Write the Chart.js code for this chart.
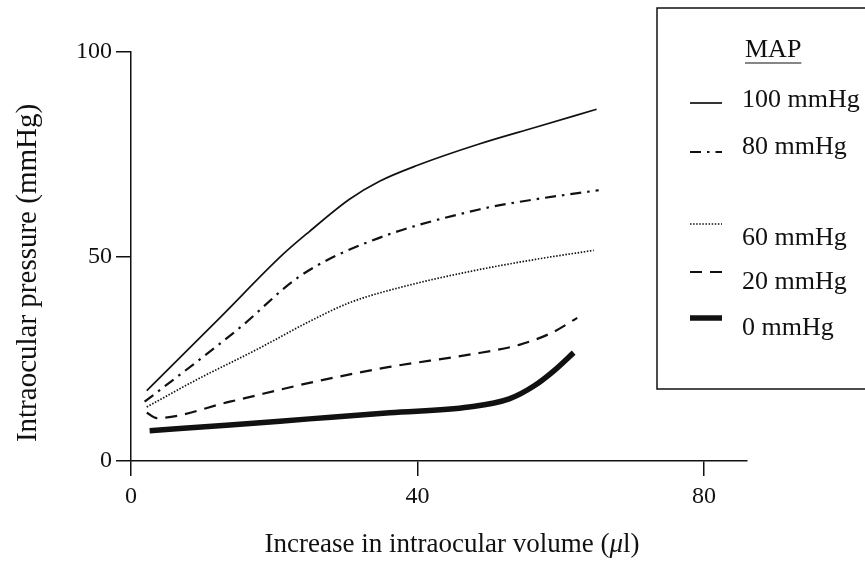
<!DOCTYPE html>
<html>
<head>
<meta charset="utf-8">
<script src="https://cdn.jsdelivr.net/npm/chart.js@4.4.0/dist/chart.umd.min.js"></script>
<style>
  html, body { margin: 0; padding: 0; background: #fff; }
  #wrap { width: 865px; height: 567px; }
</style>
</head>
<body>
<div id="wrap"><canvas id="iopChart" width="865" height="567"></canvas></div>
<script>
// MAP groups (legend order)
const mapLabels = ['100 mmHg', '80 mmHg', '60 mmHg', '20 mmHg', '0 mmHg'];

// increase in intraocular volume (µl) / intraocular pressure (mmHg)
const vol100 = [2.2, 12.4, 21.2, 24.9, 30.5, 34.7, 40.0, 48.6, 56.5, 65.0];
const iop100 = [17.2, 35.0, 50.5, 56.1, 64.0, 68.4, 72.3, 77.5, 81.6, 86.0];

const vol80 = [1.9, 9.2, 15.2, 23.5, 32.9, 48.6, 56.5, 65.3];
const iop80 = [14.5, 24.3, 32.6, 45.1, 53.4, 61.5, 64.0, 66.2];

const vol60 = [2.2, 9.2, 17.5, 24.9, 30.5, 37.5, 47.2, 56.5, 64.6];
const iop60 = [13.2, 19.9, 27.2, 34.1, 38.7, 42.4, 46.3, 49.3, 51.5];

const vol20 = [2.2, 3.6, 13.8, 24.9, 36.1, 47.2, 54.2, 58.8, 62.3];
const iop20 = [11.8, 10.5, 14.5, 19.1, 23.0, 26.0, 28.4, 31.4, 35.0];

const vol0 = [2.6, 13.8, 24.9, 36.1, 47.2, 52.8, 56.3, 59.2, 61.8];
const iop0 = [7.4, 8.8, 10.3, 11.8, 13.2, 15.2, 18.4, 22.3, 26.5];

const xTicks = [0, 40, 80];
const yTicks = [0, 50, 100];

const xTitle = ['Increase in intraocular volume (', 'μ', 'l)'];
const yTitle = 'Intraocular pressure (mmHg)';

const ink = '#111';
const serif = '"Liberation Serif", "Times New Roman", serif';

function pts(xs, ys) {
  return xs.map((x, i) => ({ x: x, y: ys[i] }));
}

// axis titles + legend drawn by hand: the box runs off the right edge, rows are unevenly spaced
const mapLegend = {
  id: 'mapLegend',
  afterDraw(chart) {
    const c = chart.ctx;
    c.save();
    c.fillStyle = ink;
    c.textBaseline = 'middle';

    // x title, with an italic mu
    const up = '27px ' + serif, it = 'italic 27px ' + serif;
    c.font = up;
    const w0 = c.measureText(xTitle[0]).width, w2 = c.measureText(xTitle[2]).width;
    c.font = it;
    const w1 = c.measureText(xTitle[1]).width;
    let tx = 452 - (w0 + w1 + w2) / 2;
    c.textAlign = 'left';
    c.font = up; c.fillText(xTitle[0], tx, 545);
    c.font = it; c.fillText(xTitle[1], tx + w0, 545);
    c.font = up; c.fillText(xTitle[2], tx + w0 + w1, 545);

    // y title
    c.save();
    c.translate(28, 273);
    c.rotate(-Math.PI / 2);
    c.textAlign = 'center';
    c.font = '29px ' + serif;
    c.fillText(yTitle, 0, 0);
    c.restore();

    // legend box
    c.textAlign = 'left';
    c.strokeStyle = ink;
    c.lineWidth = 1.5;
    c.strokeRect(657, 8, 230, 381);

    c.font = '26px ' + serif;
    c.fillText('MAP', 745, 50);
    const w = c.measureText('MAP').width;
    c.lineWidth = 1.2;
    c.beginPath();
    c.moveTo(745, 63);
    c.lineTo(745 + w, 63);
    c.stroke();

    const rows = [
      { text: 100, line: 103 },
      { text: 147, line: 152 },
      { text: 238, line: 224 },
      { text: 282, line: 272 },
      { text: 328, line: 318 }
    ];
    chart.data.datasets.forEach((ds, i) => {
      c.strokeStyle = ink;
      c.lineWidth = ds.borderWidth;
      c.setLineDash(ds.borderDash || []);
      c.beginPath();
      c.moveTo(690, rows[i].line);
      c.lineTo(722, rows[i].line);
      c.stroke();
      c.setLineDash([]);
      c.fillText(ds.label, 742, rows[i].text);
    });
    c.restore();
  }
};

const ctx = document.getElementById('iopChart').getContext('2d');
const iopChart = new Chart(ctx, {
  type: 'line',
  data: {
    datasets: [
      { label: mapLabels[0], data: pts(vol100, iop100), borderWidth: 1.7, borderDash: [] },
      { label: mapLabels[1], data: pts(vol80, iop80), borderWidth: 2.2, borderDash: [11, 6, 2.5, 6] },
      { label: mapLabels[2], data: pts(vol60, iop60), borderWidth: 1.7, borderDash: [1.5, 1.6] },
      { label: mapLabels[3], data: pts(vol20, iop20), borderWidth: 2.2, borderDash: [12, 8] },
      { label: mapLabels[4], data: pts(vol0, iop0), borderWidth: 5.5, borderDash: [] }
    ].map(ds => Object.assign(ds, {
      borderColor: ink,
      pointRadius: 0,
      fill: false,
      cubicInterpolationMode: 'monotone'
    }))
  },
  options: {
    responsive: false,
    animation: false,
    layout: { padding: { top: 52, right: 118, left: 0, bottom: 0 } },
    plugins: {
      legend: { display: false },
      tooltip: { enabled: false }
    },
    scales: {
      x: {
        type: 'linear',
        min: 0,
        max: 86,
        afterFit(scale) { scale.height = 106; },
        afterBuildTicks(scale) { scale.ticks = xTicks.map(v => ({ value: v })); },
        border: { display: true, color: ink, width: 1.5 },
        grid: { drawOnChartArea: false, drawTicks: true, tickLength: 15, color: ink, lineWidth: 1.5 },
        ticks: { color: ink, font: { family: serif, size: 24 }, padding: 6 }
      },
      y: {
        min: 0,
        max: 100,
        afterFit(scale) { scale.width = 131; },
        afterBuildTicks(scale) { scale.ticks = yTicks.map(v => ({ value: v })); },
        border: { display: true, color: ink, width: 1.5 },
        grid: { drawOnChartArea: false, drawTicks: true, tickLength: 15, color: ink, lineWidth: 1.5 },
        ticks: { color: ink, font: { family: serif, size: 24 }, padding: 4 }
      }
    }
  },
  plugins: [mapLegend]
});
</script>
</body>
</html>
